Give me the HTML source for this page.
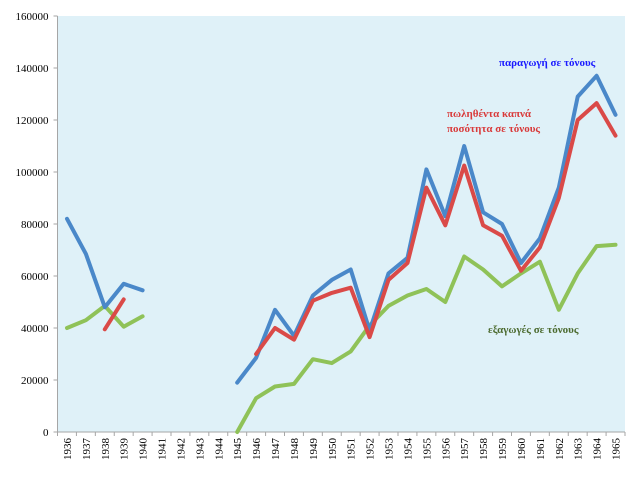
<!DOCTYPE html>
<html><head><meta charset="utf-8"><style>
body{margin:0;background:#fff;width:640px;height:478px;overflow:hidden}
svg{display:block;font-family:"Liberation Serif","DejaVu Serif",serif}
</style></head><body>
<svg id="chart" width="640" height="478" xmlns="http://www.w3.org/2000/svg"></svg>
<script>
const years=[1936,1937,1938,1939,1940,1941,1942,1943,1944,1945,1946,1947,1948,1949,1950,1951,1952,1953,1954,1955,1956,1957,1958,1959,1960,1961,1962,1963,1964,1965];
const production=[82000,68500,48000,57000,54500,null,null,null,null,19000,28500,47000,37000,52500,58500,62500,39000,61000,67000,101000,83000,110000,84500,80000,65000,74500,94000,129000,137000,122000];
const sold=[null,null,39500,51000,null,null,null,null,null,null,30000,40000,35500,50500,53500,55500,36500,58500,65000,94000,79500,102500,79500,75500,62000,71000,90000,120000,126500,114000];
const exportsT=[40000,43000,48500,40500,44500,null,null,null,null,0,13000,17500,18500,28000,26500,31000,41000,48500,52500,55000,50000,67500,62500,56000,61000,65500,47000,61000,71500,72000];
const yTicks=[0,20000,40000,60000,80000,100000,120000,140000,160000];
const NS="http://www.w3.org/2000/svg";
const svg=document.getElementById('chart');
const L=57.5,R=625,T=16,B=432,yMax=160000;
const bw=(R-L)/years.length;
const xs=i=>L+bw*(i+0.5);
const ys=v=>B-(v/yMax)*(B-T);
function mk(tag,attrs){const e=document.createElementNS(NS,tag);for(const k in attrs)e.setAttribute(k,attrs[k]);svg.appendChild(e);return e;}
const bg=mk('rect',{x:L,y:T,width:R-L,height:B-T,fill:'#dff1f8'});


const ax=mk('line',{x1:L,y1:T,x2:L,y2:B,stroke:'#a6a6a6','stroke-width':1});


const bx=mk('line',{x1:L,y1:B,x2:R,y2:B,stroke:'#a6a6a6','stroke-width':1});


yTicks.forEach(v=>{
  const y=ys(v);
  mk('line',{x1:L-4,y1:y,x2:L,y2:y,stroke:'#a6a6a6'});
  const t=mk('text',{x:L-9,y:y+4,'text-anchor':'end','font-size':11,fill:'#000'});
  t.textContent=v;
  
  
});
years.forEach((yr,i)=>{
  const x0=L+bw*i;
  mk('line',{x1:x0,y1:B,x2:x0,y2:B+4,stroke:'#a6a6a6'});
  const t=mk('text',{x:0,y:0,'text-anchor':'end','font-size':11,fill:'#000',transform:`translate(${xs(i)+4},${B+6}) rotate(-90)`});
  t.textContent=yr;
  
  
});
mk('line',{x1:R,y1:B,x2:R,y2:B+4,stroke:'#a6a6a6'});
function series(arr,color,name){
  let d='',pen=false;
  arr.forEach((v,i)=>{
    if(v===null){pen=false;return;}
    d+=(pen?'L':'M')+xs(i).toFixed(1)+' '+ys(v).toFixed(1)+' ';pen=true;
  });
  const p=mk('path',{d:d,fill:'none',stroke:color,'stroke-width':4,'stroke-linejoin':'round','stroke-linecap':'round'});
  
  
}
series(exportsT,'#8fc258','series-exports');
series(production,'#4a88c9','series-production');
series(sold,'#da4a48','series-sold');
function label(x,y,txt,color,name){
  const t=mk('text',{x:x,y:y,'font-size':11,'font-weight':'bold',fill:color});
  t.textContent=txt;
  
  
}
label(499,66,'παραγωγή σε τόνους','#1a1aff','label-production');
label(447,117,'πωληθέντα καπνά','#d93a3a','label-sold-1');
label(447,132,'ποσότητα σε τόνους','#d93a3a','label-sold-2');
label(488,333,'εξαγωγές σε τόνους','#4b6a2e','label-exports');
</script>
</body></html>
